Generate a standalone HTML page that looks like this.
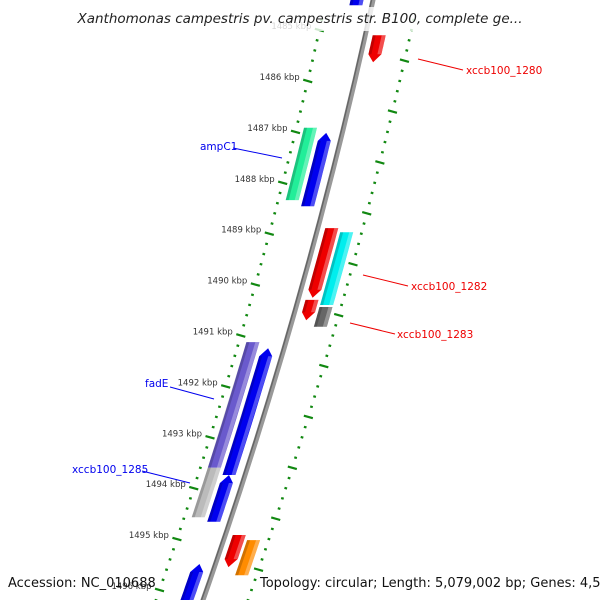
<!DOCTYPE html>
<html><head><meta charset="utf-8"><style>
html,body{margin:0;padding:0;background:#fff;}
svg{display:block;font-family:"DejaVu Sans","Liberation Sans",sans-serif;}
</style></head><body>
<svg id="map" width="600" height="600" viewBox="0 0 600 600" xmlns="http://www.w3.org/2000/svg"></svg>
<script>
// ---- data ----
const tickKbp = [1485,1486,1487,1488,1489,1490,1491,1492,1493,1494,1495,1496];
const featStart = [1483.82,1485.10,1486.92,1487.02,1488.89,1488.97,1490.30,1490.44,1491.13,1491.25,1493.60,1493.74,1494.92,1495.02,1495.49];
const featEnd   = [1484.51,1485.63,1488.34,1488.46,1490.26,1490.40,1490.70,1490.83,1493.60,1493.74,1494.57,1494.66,1495.55,1495.71,1496.59];
const featRing  = ['L1','R1','L2','L1','R1','R2','R1','R2','L2','L1','L2','L1','R1','R2','L1'];
const featShape = ['up','down','rect','up','down','rect','down','rect','rect','up','rect','up','down','rect','up'];
const featColor = ['#0000ee','#ee0000','#22ee99','#0000ee','#ee0000','#00eeee','#ee0000','#666666','#6a5acd','#0000ee','#bbbbbb','#0000ee','#ee0000','#ff8c00','#0000ee'];
const labelText = ['xccb100_1280','ampC1','xccb100_1282','xccb100_1283','fadE','xccb100_1285'];
const labelColor= ['#ee0000','#0000ee','#ee0000','#ee0000','#0000ee','#0000ee'];
const labelFeat = [1,2,5,7,8,10];

// ---- geometry ----
const svg=document.getElementById('map');
const NS='http://www.w3.org/2000/svg';
function yOf(k){return 81+(k-1486)*50.9;}
function bb(y){return 373-0.2167*y-0.000111*y*y;}
const ringOff={L1:-16,L2:-33,R1:14,R2:30};
const W=6.5;
function el(tag,attrs,parent){const e=document.createElementNS(NS,tag);for(const a in attrs)e.setAttribute(a,attrs[a]);(parent||svg).appendChild(e);return e;}

// backbone
let bpts=[];for(let y=-10;y<=610;y+=10)bpts.push(bb(y).toFixed(1)+','+y);
const bk=el('polyline',{points:bpts.join(' '),fill:'none',stroke:'#999','stroke-width':5});


const bk2=el('polyline',{points:bpts.map(p=>{const [x,y]=p.split(',');return (x-1.5)+','+y}).join(' '),fill:'none',stroke:'#666','stroke-width':1.5});



// tick tracks
const tg=el('g',{});


for(let k=1484.8;k<=1496.8;k+=0.2){
  const kk=Math.round(k*10)/10;
  const y=yOf(kk);
  const major=Math.abs(kk-Math.round(kk))<0.01;
  const half=Math.abs(kk-Math.round(kk))>0.49||Math.abs(Math.abs(kk-Math.floor(kk))-0.5)<0.01;
  [[-47,major],[45,Math.abs(Math.abs(kk-Math.floor(kk))-0.6)<0.01]].forEach(([off,big])=>{
    const x=bb(y)+off;const len=big?4.5:1.3;
    const d=el('line',{x1:x-len,y1:y-len*0.28,x2:x+len,y2:y+len*0.28,stroke:'#118811','stroke-width':2.2},tg);
    
    
  });
}
tickKbp.forEach(k=>{
  const y=yOf(k);const x=bb(y)-47-8;
  const t=el('text',{x:x,y:y-1,'text-anchor':'end','font-size':8.5,fill:'#333'},tg);
  t.textContent=k+' kbp';
  
  
});

// features
const fg=el('g',{});


featStart.forEach((s,i)=>{
  const y1=yOf(s),y2=yOf(featEnd[i]);const off=ringOff[featRing[i]];
  const c=y=>bb(y)+off;const H=8;
  let left=[],right=[];
  let ya=y1,yb=y2;
  if(featShape[i]==='up')ya=y1+H;
  if(featShape[i]==='down')yb=y2-H;
  for(let t=0;t<=10;t++){const y=ya+(yb-ya)*t/10;left.push([c(y)-W,y]);right.push([c(y)+W,y]);}
  let pts=[];
  if(featShape[i]==='up')pts.push([c(y1),y1]);
  pts=pts.concat(right);
  if(featShape[i]==='down')pts.push([c(y2),y2]);
  pts=pts.concat(left.reverse());
  const p=el('polygon',{points:pts.map(q=>q[0].toFixed(1)+','+q[1].toFixed(1)).join(' '),fill:featColor[i]},fg);
  
  
  // highlight strip
  const hs=el('polygon',{points:[[c(ya)+W-4,ya],[c(ya)+W,ya],[c(yb)+W,yb],[c(yb)+W-4,yb]].map(q=>q[0].toFixed(1)+','+q[1].toFixed(1)).join(' '),fill:'#fff',opacity:0.3},fg);
  
  
  const ds=el('polygon',{points:[[c(ya)-W,ya],[c(ya)-W+3,ya],[c(yb)-W+3,yb],[c(yb)-W,yb]].map(q=>q[0].toFixed(1)+','+q[1].toFixed(1)).join(' '),fill:'#000',opacity:0.18},fg);
  
  
});

// labels
const labelPos=[[466,74,418,59,463,70],[200,150,233,148,282,158],[411,290,363,275,408,286],[397,338,350,323,395,334],[145,387,170,387,214,399],[72,473,142,471,190,483]];
labelText.forEach((t,i)=>{
  const L=labelPos[i];
  const ln=el('line',{x1:L[2],y1:L[3],x2:L[4],y2:L[5],stroke:labelColor[i],'stroke-width':1});
  
  
  const tx=el('text',{x:L[0],y:L[1],'font-size':10.5,fill:labelColor[i]});
  tx.textContent=t;
  
  
});

// title overlay
const ov=el('rect',{x:0,y:7,width:600,height:24,fill:'#fff',opacity:0.8});


const title=el('text',{x:300,y:23,'text-anchor':'middle','font-size':13.5,'font-style':'italic',fill:'#222'});
title.textContent='Xanthomonas campestris pv. campestris str. B100, complete ge...';


const acc=el('text',{x:8,y:587,'font-size':13,fill:'#111'});
acc.textContent='Accession: NC_010688';


const topo=el('text',{x:260,y:587,'font-size':13,fill:'#111'});
topo.textContent='Topology: circular; Length: 5,079,002 bp; Genes: 4,528';


</script>
</body></html>
